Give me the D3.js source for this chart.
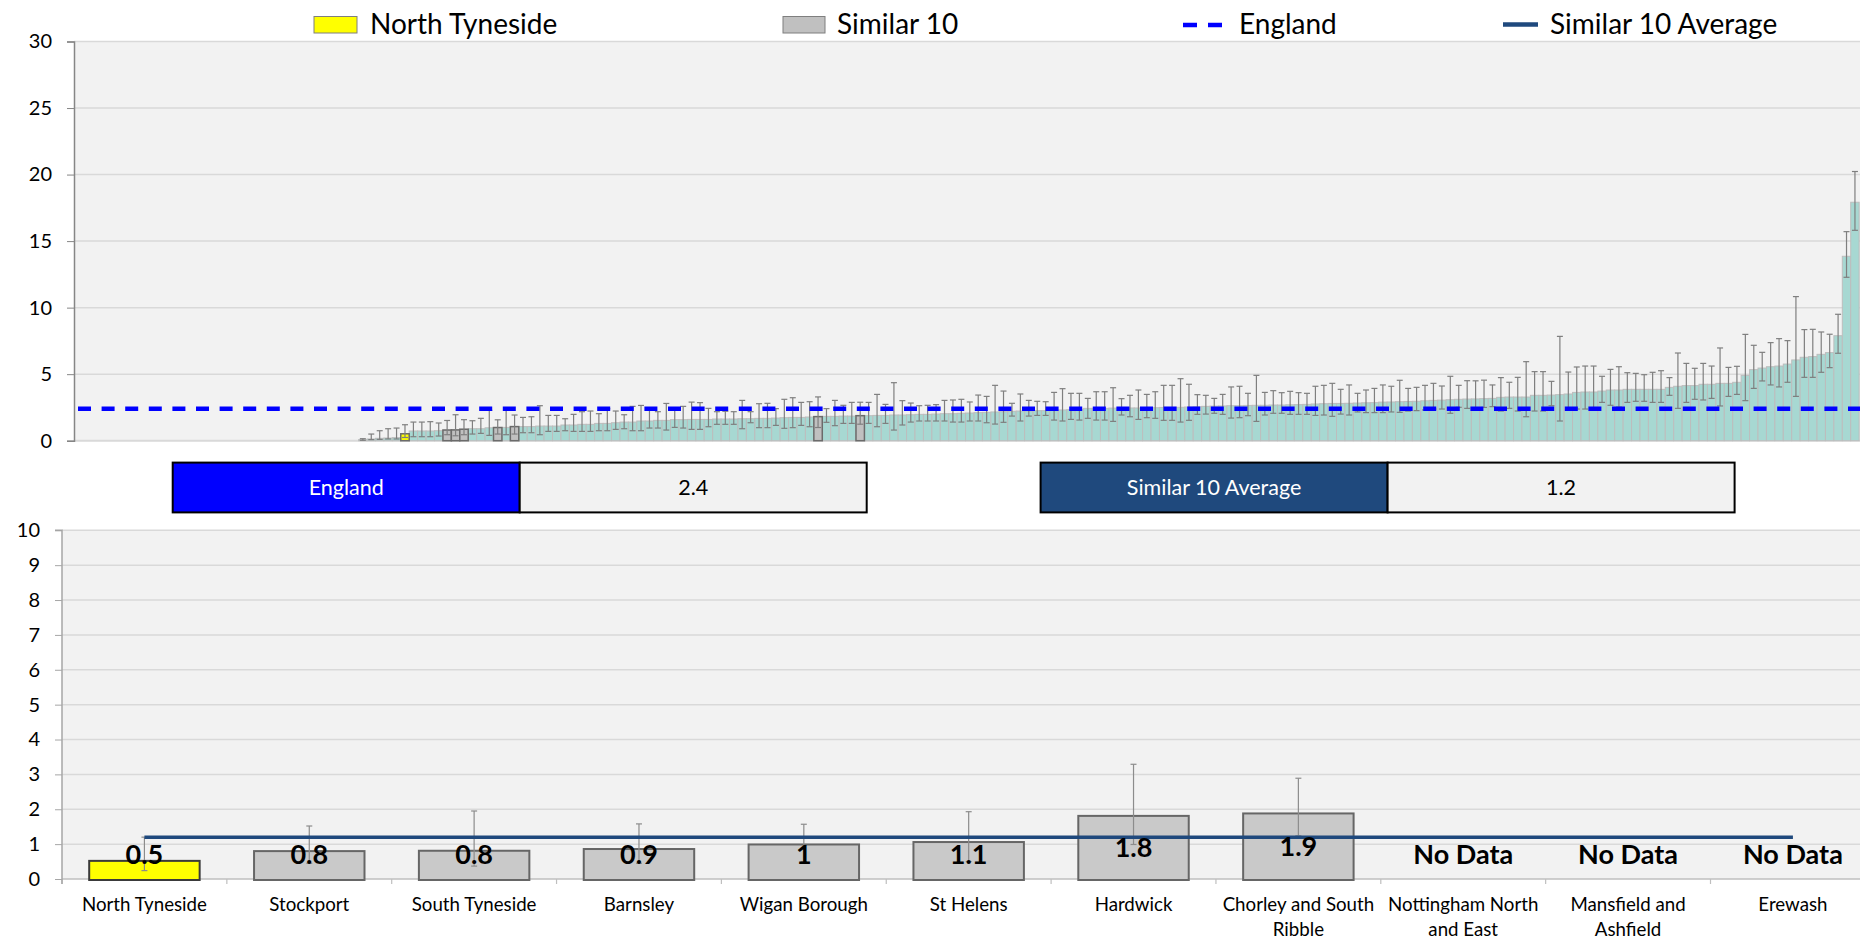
<!DOCTYPE html>
<html><head><meta charset="utf-8">
<script src="https://cdn.jsdelivr.net/npm/d3@7"></script>
<style>
body{margin:0;background:#fff;}
svg{display:block;font-family:Lato,'Open Sans',sans-serif;}
</style>
</head><body>
<svg id="chart" width="1860" height="939"></svg>
<script>
// ---------------- DATA ----------------
// Top chart: all areas ranked (first emptyCount categories have no value)
const emptyCount = 34;
const topValues = [
 0.08,0.13,0.18,0.2,0.23,0.52,0.73,0.73,0.73,0.75,0.8,0.81,0.86,0.9,0.9,0.97,0.99,1.0,1.06,1.06,1.06,1.1,1.1,1.1,1.18,1.18,1.23,1.23,1.3,1.3,1.35,1.4,1.4,1.48,1.48,1.53,1.53,1.58,1.58,1.6,
 1.6,1.6,1.63,1.63,1.63,1.65,1.65,1.68,1.68,1.7,1.73,1.75,1.75,1.78,1.81,1.83,1.83,1.85,1.85,1.88,1.88,1.9,1.9,1.93,1.93,1.95,1.98,1.98,2.0,2.03,2.03,2.06,2.08,2.11,2.13,2.16,2.18,2.21,2.23,2.23,2.26,2.26,2.28,2.31,2.33,2.36,
 2.43,2.43,2.43,2.45,2.45,2.46,2.46,2.48,2.48,2.5,2.5,2.51,2.53,2.55,2.58,2.6,2.61,2.63,2.63,2.65,2.66,2.66,2.68,2.68,2.7,2.71,2.73,2.76,2.78,2.8,2.8,2.81,2.83,2.85,2.86,2.9,2.91,2.93,2.95,2.96,3.0,3.03,3.05,3.08,3.11,3.13,
 3.14,3.16,
 3.18,3.26,3.28,3.28,3.28,3.41,3.41,3.43,3.46,3.51,3.63,3.66,3.66,3.73,3.81,3.81,3.86,3.86,3.86,3.86,3.86,4.01,4.09,4.14,4.14,4.24,4.24,4.31,4.31,4.39,4.91,5.34,5.46,5.56,5.61,5.76,6.07,6.27,6.32,6.49,6.62,7.89,13.86,17.92
];
const topUpper = [
 0.15,0.5,0.75,0.9,0.95,1.2,1.4,1.4,1.43,1.33,1.52,1.95,1.58,1.5,1.68,2.28,1.57,2.33,1.93,1.75,1.8,2.63,1.9,1.9,1.65,1.98,2.18,2.23,2.03,2.4,2.23,1.95,2.58,2.65,2.4,2.18,2.8,2.38,2.58,2.9,
 2.86,2.43,2.18,2.21,2.18,3.03,2.18,2.78,2.81,2.41,3.11,3.23,2.88,2.93,3.29,2.41,3.03,2.66,2.88,2.89,2.88,3.48,2.73,4.36,3.01,2.83,2.63,2.66,2.71,3.03,3.06,3.11,2.91,3.43,3.33,4.16,3.73,2.81,3.51,3.03,2.96,2.93,3.63,3.91,3.56,3.56,
 3.18,3.68,3.68,3.98,3.16,3.41,3.81,3.48,3.68,4.16,4.16,4.66,4.24,3.46,3.41,3.18,3.48,4.04,4.09,3.56,4.91,3.63,3.76,3.61,3.71,3.61,3.56,4.09,4.16,4.31,3.86,4.19,3.56,3.81,3.93,4.19,4.09,4.54,3.93,4.01,4.16,4.31,4.11,4.84,4.16,4.51,
 4.5,4.55,
 4.19,4.74,4.39,4.76,5.94,5.19,5.19,4.46,7.84,5.16,5.54,5.61,5.61,4.84,5.36,5.56,5.11,5.06,4.96,5.14,5.26,4.74,6.59,5.81,5.44,5.81,5.61,6.97,5.51,5.59,7.99,7.17,6.64,7.37,7.67,7.52,10.83,8.35,8.37,8.17,8.0,9.5,15.71,20.23
];
const topLower = [
 0.03,0.08,0.1,0.13,0.13,0.24,0.3,0.3,0.3,0.35,0.45,0.37,0.45,0.5,0.55,0.4,0.5,0.45,0.5,0.6,0.6,0.45,0.7,0.7,0.75,0.7,0.7,0.7,0.75,0.75,0.85,0.9,0.75,0.75,0.95,0.95,0.8,1.0,0.95,0.85,
 0.85,1.05,1.23,1.23,1.23,0.9,1.35,0.98,0.98,1.15,0.93,0.98,1.15,1.05,0.99,1.38,1.13,1.3,1.3,1.24,1.3,1.05,1.3,0.8,1.18,1.4,1.48,1.48,1.48,1.48,1.4,1.4,1.48,1.48,1.35,1.25,1.38,1.85,1.48,1.85,1.9,1.9,1.55,1.48,1.6,1.55,
 1.68,1.55,1.55,1.45,1.93,1.8,1.6,1.73,1.68,1.53,1.53,1.4,1.53,1.98,2.0,2.06,1.98,1.7,1.73,1.88,1.45,1.93,2.06,2.06,1.98,1.98,1.98,1.9,1.93,1.83,2.0,1.93,2.16,2.11,2.11,2.11,2.16,2.13,2.23,2.26,2.31,2.38,2.38,2.06,2.51,2.43,
 2.45,2.5,
 2.56,2.23,2.43,2.23,1.8,2.23,2.23,2.63,1.48,2.43,2.38,2.38,2.38,2.88,2.66,2.53,2.88,2.96,2.96,2.88,2.88,3.41,2.43,2.88,3.11,3.06,3.18,2.61,3.33,3.48,3.01,3.93,4.49,4.19,4.04,4.39,3.33,4.76,4.76,5.14,5.49,6.57,12.28,15.81
];
// rank positions (within data bars) of the selected area and its similar 10
const rankNorthTyneside = 5;
const rankSimilar = [10, 11, 12, 16, 18, 54, 59];

// Bottom chart
const categories = ["North Tyneside","Stockport","South Tyneside","Barnsley","Wigan Borough","St Helens","Hardwick","Chorley and South Ribble","Nottingham North and East","Mansfield and Ashfield","Erewash"];
const values = [0.52,0.8,0.81,0.86,0.99,1.06,1.81,1.88,null,null,null];
const lowerCI = [0.24,0.45,0.37,0.45,0.5,0.5,0.99,1.24,null,null,null];
const upperCI = [1.2,1.52,1.95,1.58,1.57,1.93,3.29,2.89,null,null,null];
const englandValue = 2.4;
const similarAverage = 1.2;
const topTicks = [0,5,10,15,20,25,30];
const bottomTicks = [0,1,2,3,4,5,6,7,8,9,10];
const legendItems = ["North Tyneside","Similar 10","England","Similar 10 Average"];

// ---------------- DRAW ----------------
const svg = d3.select("#chart");
svg.append("rect").attr("width",1860).attr("height",939).attr("fill","#fff");

const fmt = d3.format(".1~f");

// ===== TOP CHART =====
const N = emptyCount + topValues.length;
const step = 8.43;
const xTop = d3.scaleBand().domain(d3.range(N)).range([72, 72 + N*step]).padding(0);
const yTop = d3.scaleLinear().domain([0,30]).range([440.7, 41.5]);
const topLeft = 74, plotRight = 1860;
const topData = topValues.map((v,i)=>({i: i+emptyCount, r:i, v, lo: topLower[i], hi: topUpper[i]}));

const gTop = svg.append("g");
gTop.append("rect").attr("x",topLeft).attr("y",yTop(30)).attr("width",plotRight-topLeft)
  .attr("height",yTop(0)-yTop(30)).attr("fill","#f2f2f2");
gTop.selectAll("line.grid").data(topTicks).join("line")
  .attr("x1",topLeft).attr("x2",plotRight).attr("y1",d=>yTop(d)).attr("y2",d=>yTop(d))
  .attr("stroke","#d9d9d9").attr("stroke-width",d=>d===0?2:1.5);

gTop.selectAll("rect.bar").data(topData).join("rect")
  .attr("x",d=>xTop(d.i)).attr("width",xTop.bandwidth())
  .attr("y",d=>yTop(d.v)).attr("height",d=>yTop(0)-yTop(d.v))
  .attr("fill","#a7d8d2").attr("stroke","#bdbdbd").attr("stroke-width",1);

const hl = [{r:rankNorthTyneside, fill:"#ffff00"}].concat(rankSimilar.map(r=>({r, fill:"#c0c0c0"})));
gTop.selectAll("rect.hl").data(hl).join("rect")
  .attr("x",d=>xTop(d.r+emptyCount)).attr("width",xTop.bandwidth())
  .attr("y",d=>yTop(topValues[d.r])).attr("height",d=>yTop(0)-yTop(topValues[d.r]))
  .attr("fill",d=>d.fill).attr("stroke","#6b6b6b").attr("stroke-width",1.5);

const eb = gTop.append("g").attr("stroke","#7f7f7f").attr("stroke-width",1.2);
topData.forEach(d=>{
  const cx = xTop(d.i)+xTop.bandwidth()/2;
  eb.append("line").attr("x1",cx).attr("x2",cx).attr("y1",yTop(d.lo)).attr("y2",yTop(d.hi));
  eb.append("line").attr("x1",cx-3).attr("x2",cx+3).attr("y1",yTop(d.hi)).attr("y2",yTop(d.hi));
  eb.append("line").attr("x1",cx-3).attr("x2",cx+3).attr("y1",yTop(d.lo)).attr("y2",yTop(d.lo));
});

gTop.append("line").attr("x1",topLeft+4).attr("x2",plotRight).attr("y1",yTop(englandValue)).attr("y2",yTop(englandValue))
  .attr("stroke","#0000ff").attr("stroke-width",4.5).attr("stroke-dasharray","13,10.6");

const axTop = gTop.append("g").attr("transform",`translate(${topLeft},0)`)
  .call(d3.axisLeft(yTop).tickValues(topTicks).tickSize(7).tickPadding(15).tickFormat(d3.format("d")));
axTop.select(".domain").attr("stroke","#868686").attr("stroke-width",1.5);
axTop.selectAll(".tick line").attr("stroke","#868686");
axTop.selectAll("text").attr("font-size",20).attr("fill","#000").attr("font-family","Lato");

// Legend
const lg = svg.append("g").attr("font-size",28).attr("fill","#000");
lg.append("rect").attr("x",314).attr("y",16.5).attr("width",43).attr("height",16.5).attr("fill","#ffff00").attr("stroke","#7f7f7f");
lg.append("text").attr("x",370).attr("y",34).text(legendItems[0]);
lg.append("rect").attr("x",783).attr("y",16.5).attr("width",42).attr("height",16.5).attr("fill","#c0c0c0").attr("stroke","#7f7f7f");
lg.append("text").attr("x",837).attr("y",34).text(legendItems[1]);
lg.append("line").attr("x1",1183).attr("x2",1222).attr("y1",25).attr("y2",25).attr("stroke","#0000ff").attr("stroke-width",4.5).attr("stroke-dasharray","14,11");
lg.append("text").attr("x",1239).attr("y",34).text(legendItems[2]);
lg.append("line").attr("x1",1503).attr("x2",1538).attr("y1",24.5).attr("y2",24.5).attr("stroke","#1f497d").attr("stroke-width",4.5);
lg.append("text").attr("x",1550).attr("y",34).text(legendItems[3]);

// ===== MIDDLE SUMMARY BOXES =====
function summaryBox(x0, label, value, color){
  const g = svg.append("g");
  const w = 347, y0 = 462.6, h = 49.8;
  g.append("rect").attr("x",x0).attr("y",y0).attr("width",w).attr("height",h).attr("fill",color).attr("stroke","#000").attr("stroke-width",2);
  g.append("rect").attr("x",x0+w).attr("y",y0).attr("width",w).attr("height",h).attr("fill","#f2f2f2").attr("stroke","#000").attr("stroke-width",2);
  g.append("text").attr("x",x0+w/2).attr("y",y0+h/2).attr("dy","0.36em").attr("text-anchor","middle").attr("font-size",21.5).attr("fill","#fff").text(label);
  g.append("text").attr("x",x0+w*1.5).attr("y",y0+h/2).attr("dy","0.36em").attr("text-anchor","middle").attr("font-size",21.5).attr("fill","#000").text(fmt(value));
}
summaryBox(172.7, "England", englandValue, "#0000ff");
summaryBox(1040.6, "Similar 10 Average", similarAverage, "#1f497d");

// ===== BOTTOM CHART =====
const botLeft = 62, bStep = 164.85;
const xBot = d3.scaleBand().domain(categories).range([botLeft, botLeft + categories.length*bStep]).paddingInner(0.33).paddingOuter(0.165);
const yBot = d3.scaleLinear().domain([0,10]).range([879, 530.3]);
const botData = categories.map((c,i)=>({c, v: values[i], lo: lowerCI[i], hi: upperCI[i], i}));
const gBot = svg.append("g");
gBot.append("rect").attr("x",botLeft).attr("y",yBot(10)).attr("width",plotRight-botLeft).attr("height",yBot(0)-yBot(10)).attr("fill","#f2f2f2");
gBot.selectAll("line.grid").data(bottomTicks.slice(1)).join("line")
  .attr("x1",botLeft).attr("x2",plotRight).attr("y1",d=>yBot(d)).attr("y2",d=>yBot(d))
  .attr("stroke","#d9d9d9").attr("stroke-width",1.5);

// x axis line + category ticks
gBot.append("line").attr("x1",botLeft).attr("x2",plotRight).attr("y1",yBot(0)).attr("y2",yBot(0)).attr("stroke","#bfbfbf").attr("stroke-width",1.5);
gBot.selectAll("line.ctick").data(categories).join("line")
  .attr("x1",d=>xBot(d)-xBot.step()*0.165).attr("x2",d=>xBot(d)-xBot.step()*0.165)
  .attr("y1",yBot(0)).attr("y2",yBot(0)+5).attr("stroke","#bfbfbf").attr("stroke-width",1.2);

gBot.selectAll("rect.bar").data(botData.filter(d=>d.v!=null)).join("rect")
  .attr("x",d=>xBot(d.c)).attr("width",xBot.bandwidth())
  .attr("y",d=>yBot(d.v)).attr("height",d=>yBot(0)-yBot(d.v)+1)
  .attr("fill",d=>d.i===0?"#ffff00":"#c9c9c9").attr("stroke",d=>d.i===0?"#3a3a3a":"#666").attr("stroke-width",2);

const eb2 = gBot.append("g").attr("stroke","#8c8c8c").attr("stroke-width",1.2);
botData.filter(d=>d.v!=null).forEach(d=>{
  const cx = xBot(d.c)+xBot.bandwidth()/2;
  eb2.append("line").attr("x1",cx).attr("x2",cx).attr("y1",yBot(d.lo)).attr("y2",yBot(d.hi));
  eb2.append("line").attr("x1",cx-3).attr("x2",cx+3).attr("y1",yBot(d.hi)).attr("y2",yBot(d.hi));
  eb2.append("line").attr("x1",cx-3).attr("x2",cx+3).attr("y1",yBot(d.lo)).attr("y2",yBot(d.lo));
});

const cFirst = xBot(categories[0])+xBot.bandwidth()/2, cLast = xBot(categories[categories.length-1])+xBot.bandwidth()/2;
gBot.append("line").attr("x1",cFirst).attr("x2",cLast).attr("y1",yBot(similarAverage)).attr("y2",yBot(similarAverage))
  .attr("stroke","#1f497d").attr("stroke-width",3.5);

gBot.selectAll("text.val").data(botData).join("text")
  .attr("x",d=>xBot(d.c)+xBot.bandwidth()/2)
  .attr("y",d=>Math.min(d.v==null?Infinity:yBot(d.v/2), yBot(0)-25))
  .attr("dy","0.36em").attr("text-anchor","middle").attr("font-size",27).attr("font-weight","bold").attr("fill","#000")
  .text(d=>d.v==null?"No Data":fmt(d.v));

const axBot = gBot.append("g").attr("transform",`translate(${botLeft},0)`)
  .call(d3.axisLeft(yBot).tickValues(bottomTicks).tickSize(7).tickPadding(15).tickFormat(d3.format("d")));
axBot.select(".domain").attr("stroke","#a6a6a6").attr("stroke-width",1.5).attr("d",`M-7,${yBot(10)}H0V${yBot(0)+5}`);
axBot.selectAll(".tick line").attr("stroke","#a6a6a6");
axBot.selectAll("text").attr("font-size",20).attr("fill","#000").attr("font-family","Lato");

// category labels with wrapping
const lab = gBot.selectAll("text.cat").data(categories).join("text")
  .attr("text-anchor","middle").attr("font-size",18.7).attr("fill","#000")
  .attr("x",d=>xBot(d)+xBot.bandwidth()/2).attr("y",911);
lab.each(function(d){
  const t = d3.select(this), words = d.split(" "), cx = +t.attr("x");
  let line = [];
  let ts = t.append("tspan").attr("x",cx).attr("dy",0);
  words.forEach(w=>{
    line.push(w); ts.text(line.join(" "));
    if (ts.node().getComputedTextLength() > 162 && line.length>1){
      line.pop(); ts.text(line.join(" ")); line=[w];
      ts = t.append("tspan").attr("x",cx).attr("dy",24.5).text(w);
    }
  });
});
</script>
</body></html>
